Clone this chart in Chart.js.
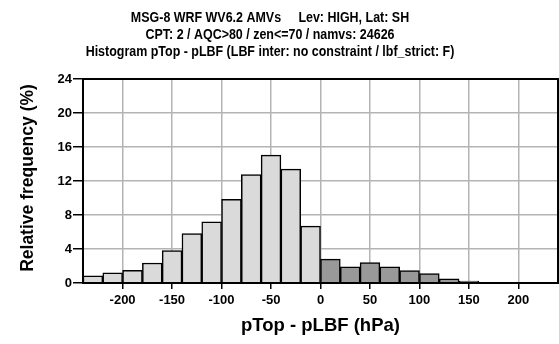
<!DOCTYPE html>
<html lang="en">
<head>
    <meta charset="UTF-8">
    <title>pTop - pLBF histogram</title>
    <script src="https://cdn.jsdelivr.net/npm/chart.js"></script>
    <style>
        html, body { margin: 0; padding: 0; background: white; }
        #wrap { position: relative; width: 559px; height: 344px; }
    </style>
</head>
<body>
<div id="wrap"><canvas id="chart"></canvas></div>

<script>
// bin centres (hPa), 20 hPa wide bins
const binCentres = [-230, -210, -190, -170, -150, -130, -110, -90, -70, -50, -30, -10,
                    10, 30, 50, 70, 90, 110, 130, 150, 170, 190];
// relative frequency (%)
const frequency = [0.85, 1.2, 1.5, 2.35, 3.8, 5.8, 7.2, 9.85, 12.75, 15.05, 13.4, 6.7,
                   2.8, 1.9, 2.4, 1.9, 1.45, 1.1, 0.5, 0.22, 0.08, 0.03];
const xTicks = [-200, -150, -100, -50, 0, 50, 100, 150, 200];
const yTicks = [0, 4, 8, 12, 16, 20, 24];

const titleLines = [
    'MSG-8 WRF WV6.2 AMVs     Lev: HIGH, Lat: SH',
    'CPT: 2 / AQC>80 / zen<=70 / namvs: 24626',
    'Histogram pTop - pLBF (LBF inter: no constraint / lbf_strict: F)'
];
const xTitle = 'pTop - pLBF (hPa)';
const yTitle = 'Relative frequency (%)';

const FONT = '"Liberation Sans", Arial, sans-serif';

const decorations = {
    id: 'decorations',
    afterDraw(chart) {
        const ctx = chart.ctx;
        const a = chart.chartArea;
        ctx.save();
        // frame
        ctx.strokeStyle = '#000';
        ctx.lineWidth = 2;
        ctx.strokeRect(a.left, a.top, a.right - a.left, a.bottom - a.top);

        ctx.fillStyle = '#000';
        ctx.textAlign = 'center';
        ctx.textBaseline = 'middle';
        // title font is narrower than Arial bold: squeeze it a bit
        ctx.font = 'bold 14px ' + FONT;
        titleLines.forEach((t, i) => {
            ctx.save();
            ctx.translate(270, 18.5 + i * 17);
            ctx.scale(0.89, 1);
            ctx.fillText(t, 0, 0);
            ctx.restore();
        });

        ctx.font = 'bold 18.5px ' + FONT;
        ctx.fillText(xTitle, (a.left + a.right) / 2, 326);

        ctx.font = 'bold 17.5px ' + FONT;
        ctx.translate(28, 178);
        ctx.rotate(-Math.PI / 2);
        ctx.fillText(yTitle, 0, 0);
        ctx.restore();
    }
};

new Chart(document.getElementById('chart'), {
    type: 'bar',
    data: {
        datasets: [{
            data: binCentres.map((x, i) => ({ x: x, y: frequency[i] })),
            backgroundColor: binCentres.map(x => x < 0 ? '#dadada' : '#999999'),
            borderColor: '#000',
            borderWidth: 1.5,
            barPercentage: 1,
            categoryPercentage: 1
        }]
    },
    options: {
        responsive: true,
        maintainAspectRatio: false,
        animation: false,
        layout: { padding: { top: 79, right: 1, left: 0, bottom: 0 } },
        plugins: {
            legend: { display: false },
            tooltip: { enabled: false }
        },
        scales: {
            x: {
                type: 'linear',
                min: -240,
                max: 240,
                offset: false,
                z: 1,
                afterBuildTicks: s => { s.ticks = xTicks.map(v => ({ value: v })); },
                afterFit: s => { s.height = 61; },
                grid: { color: '#b4b4b4', lineWidth: 1.5, tickColor: '#000', tickLength: 6, offset: false },
                border: { color: '#000', width: 2 },
                ticks: {
                    color: '#000',
                    padding: 4,
                    maxRotation: 0,
                    font: { family: FONT, size: 13, weight: 'bold' }
                }
            },
            y: {
                min: 0,
                max: 24,
                z: 1,
                afterBuildTicks: s => { s.ticks = yTicks.map(v => ({ value: v })); },
                afterFit: s => { s.width = 83; },
                grid: { color: '#b4b4b4', lineWidth: 1.5, tickColor: '#000', tickLength: 10 },
                border: { color: '#000', width: 2 },
                ticks: {
                    color: '#000',
                    padding: 1,
                    font: { family: FONT, size: 13, weight: 'bold' }
                }
            }
        }
    },
    plugins: [decorations]
});
</script>
</body>
</html>
